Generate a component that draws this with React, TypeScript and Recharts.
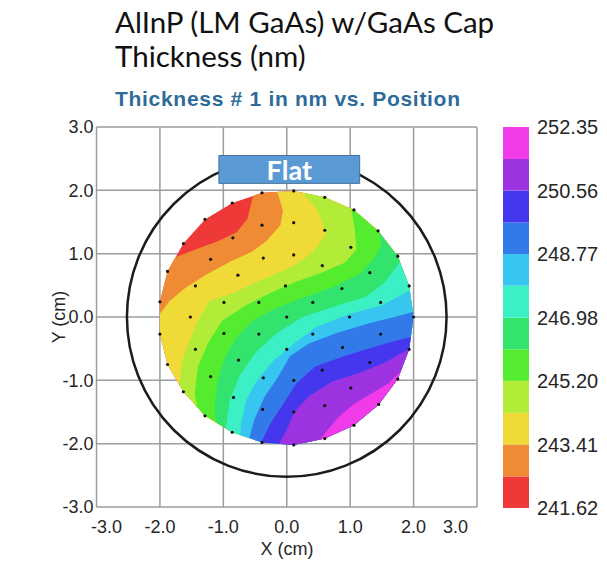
// Wafer thickness map: filled contour bands over the measured sites, with colour scale.

import { CartesianGrid, ReferenceArea, Scatter, ScatterChart, XAxis, YAxis } from "recharts";

type Pt = { x: number; y: number };

const AXIS_TICKS = [-3, -2, -1, 0, 1, 2, 3];

// band boundaries (nm), low to high
const LEVELS = [
  241.62, 242.51, 243.41, 244.3, 245.2, 246.09, 246.98, 247.88, 248.77, 249.66,
  250.56, 251.45, 252.35,
];
const COLORBAR_TICKS = [241.62, 243.41, 245.2, 246.98, 248.77, 250.56, 252.35];
const BAND_COLORS = [
  "#ef3838", "#ef8a35", "#f0da38", "#b3ec38", "#55ec30", "#32e46e",
  "#3af0c4", "#36c6ef", "#3279ea", "#4537ee", "#9d33e0", "#f23be8",
];

// measured sites (cm), outer ring listed counter-clockwise from +x
const RING_OUTER = [
  [2.0, 0], [1.93, 0.49], [1.75, 0.96], [1.44, 1.36], [1.06, 1.69], [0.6, 1.89],
  [0.11, 1.99], [-0.39, 1.96], [-0.86, 1.8], [-1.29, 1.54], [-1.63, 1.16],
  [-1.88, 0.72], [-2.0, 0.24], [-2.0, -0.27], [-1.88, -0.75], [-1.63, -1.18],
  [-1.29, -1.56], [-0.86, -1.82], [-0.39, -1.98], [0.11, -2.02], [0.6, -1.92],
  [1.06, -1.71], [1.45, -1.38], [1.75, -0.98], [1.93, -0.51],
];
const RING_3 = [
  [1.48, 0.23], [1.31, 0.7], [1.01, 1.1], [0.6, 1.37], [0.11, 1.49], [-0.39, 1.45],
  [-0.85, 1.25], [-1.2, 0.91], [-1.44, 0.49], [-1.52, 0], [-1.44, -0.51],
  [-1.2, -0.94], [-0.84, -1.27], [-0.38, -1.46], [0.11, -1.5], [0.6, -1.4],
  [1.01, -1.12], [1.31, -0.72], [1.48, -0.27],
];
const RING_2 = [
  [0.99, 0], [0.87, 0.45], [0.56, 0.81], [0.11, 0.98], [-0.37, 0.93], [-0.77, 0.66],
  [-0.99, 0.23], [-0.99, -0.26], [-0.76, -0.68], [-0.37, -0.96], [0.11, -1.0],
  [0.56, -0.84], [0.88, -0.48],
];
const RING_1 = [[0.41, 0.23], [-0.02, 0.49], [-0.44, 0.23], [-0.44, -0.27], [0, -0.51], [0.41, -0.27]];
const CENTER = [[0, 0]];

// contour lines between neighbouring bands, each from the lower-left edge to the upper-right edge
const EDGE_RED_ORANGE = [[-1.76, 0.95], [-1.45, 1.06], [-1.08, 1.2], [-0.79, 1.34], [-0.62, 1.55], [-0.56, 1.8], [-0.53, 1.92]];
const EDGE_ORANGE_YELLOW = [[-2.0, 0.05], [-1.85, 0.25], [-1.61, 0.45], [-1.29, 0.66], [-0.88, 0.88], [-0.55, 1.03], [-0.32, 1.2], [-0.1, 1.45], [-0.06, 1.68], [-0.15, 1.99]];
const EDGE_YELLOW_LIME = [[-1.77, -1.12], [-1.66, -0.73], [-1.53, -0.36], [-1.4, -0.05], [-1.22, 0.25], [-0.85, 0.38], [-0.37, 0.6], [0.1, 0.8], [0.4, 1.02], [0.62, 1.3], [0.5, 1.66], [0.26, 1.98]];
const EDGE_LIME_GREEN = [[-1.43, -1.43], [-1.45, -1.2], [-1.4, -0.78], [-1.24, -0.41], [-1.02, -0.06], [-0.65, 0.18], [-0.3, 0.36], [0.1, 0.54], [0.55, 0.7], [0.92, 0.86], [1.1, 1.07], [1.07, 1.4], [1.02, 1.72]];
const EDGE_GREEN_SEA = [[-1.11, -1.66], [-1.14, -1.46], [-1.1, -1.04], [-0.98, -0.65], [-0.8, -0.33], [-0.52, -0.05], [-0.15, 0.15], [0.3, 0.32], [0.75, 0.48], [1.15, 0.68], [1.4, 0.95], [1.49, 1.15], [1.46, 1.34]];
const EDGE_SEA_AQUA = [[-0.96, -1.76], [-0.9, -1.31], [-0.74, -0.92], [-0.48, -0.55], [-0.15, -0.25], [0.25, 0.0], [0.8, 0.18], [1.25, 0.32], [1.55, 0.55], [1.81, 0.88]];
const EDGE_AQUA_CYAN = [[-0.74, -1.87], [-0.72, -1.67], [-0.64, -1.31], [-0.46, -0.99], [-0.2, -0.68], [0.12, -0.42], [0.45, -0.16], [1.0, 0.05], [1.5, 0.18], [1.95, 0.42]];
const EDGE_CYAN_BLUE = [[-0.59, -1.91], [-0.51, -1.62], [-0.35, -1.26], [-0.14, -0.95], [0.05, -0.62], [0.35, -0.42], [0.8, -0.25], [1.3, -0.1], [1.7, 0.0], [2.0, 0.08]];
const EDGE_BLUE_INDIGO = [[-0.4, -1.97], [-0.25, -1.67], [-0.04, -1.35], [0.15, -1.05], [0.45, -0.78], [0.9, -0.62], [1.35, -0.48], [1.7, -0.38], [1.98, -0.32]];
const EDGE_INDIGO_PURPLE = [[-0.12, -2.02], [0.0, -1.78], [0.12, -1.5], [0.35, -1.25], [0.72, -1.02], [1.15, -0.88], [1.55, -0.72], [1.93, -0.5]];
const EDGE_PURPLE_MAGENTA = [[0.52, -1.96], [0.8, -1.6], [1.05, -1.38], [1.35, -1.2], [1.6, -1.05], [1.8, -0.86]];

const CONTOURS = [
  EDGE_RED_ORANGE, EDGE_ORANGE_YELLOW, EDGE_YELLOW_LIME, EDGE_LIME_GREEN,
  EDGE_GREEN_SEA, EDGE_SEA_AQUA, EDGE_AQUA_CYAN, EDGE_CYAN_BLUE,
  EDGE_BLUE_INDIGO, EDGE_INDIGO_PURPLE, EDGE_PURPLE_MAGENTA,
];

const WAFER_RADIUS = 2.52;
const FLAT_BOX = [[-1.07, 2.11], [1.15, 2.11], [1.15, 2.55], [-1.07, 2.55], [-1.07, 2.11]];
const FLAT_LABEL = [[0.04, 2.33]];

// layout of the map
const CHART_W = 500;
const CHART_H = 569;
const MARGIN = { top: 127, right: 23, bottom: 0, left: 0 };
const Y_AXIS_W = 96.5;
const PX_PER_CM = (CHART_W - MARGIN.right - MARGIN.left - Y_AXIS_W) / 6;

const FONT = "'Liberation Sans', Arial, sans-serif";

const toPts = (arr: number[][]): Pt[] => arr.map(([x, y]) => ({ x, y }));

const edge = toPts(RING_OUTER);
const sites = toPts([...RING_OUTER, ...RING_3, ...RING_2, ...RING_1, ...CENTER]);

function snapToEdge(p: Pt): Pt {
  let best = p;
  let bestD = Infinity;
  for (let i = 0; i < edge.length; i++) {
    const a = edge[i];
    const b = edge[(i + 1) % edge.length];
    const dx = b.x - a.x;
    const dy = b.y - a.y;
    let t = ((p.x - a.x) * dx + (p.y - a.y) * dy) / (dx * dx + dy * dy);
    t = Math.max(0, Math.min(1, t));
    const q = { x: a.x + t * dx, y: a.y + t * dy };
    const d = (q.x - p.x) ** 2 + (q.y - p.y) ** 2;
    if (d < bestD) {
      bestD = d;
      best = q;
    }
  }
  return best;
}

const angle = (p: Pt) => (Math.atan2(p.y, p.x) * 180) / Math.PI;
const mod360 = (a: number) => ((a % 360) + 360) % 360;

// region above a contour level: the contour plus the disc edge on its high (lower-right) side
function bandPolygon(line: number[][]): Pt[] {
  const pts = toPts(line);
  pts[0] = snapToEdge(pts[0]);
  pts[pts.length - 1] = snapToEdge(pts[pts.length - 1]);
  const aS = angle(pts[0]);
  const aE = angle(pts[pts.length - 1]);
  const total = mod360(aE - aS);
  const arc = edge
    .map((p) => ({ p, d: mod360(aE - angle(p)) }))
    .filter((o) => o.d > 0 && o.d < total)
    .sort((a, b) => a.d - b.d)
    .map((o) => o.p);
  return [...pts, ...arc, pts[0]];
}

const bandShapes: Pt[][] = [[...edge, edge[0]], ...CONTOURS.map(bandPolygon)];

const noMark = () => <g />;

// x tick labels; the two end labels are pulled in toward the plot
function XTick(props: { x: number; y: number; payload: { value: number } }) {
  const { x, y, payload } = props;
  const v = payload.value;
  const first = v === AXIS_TICKS[0];
  const last = v === AXIS_TICKS[AXIS_TICKS.length - 1];
  const anchor = first ? "start" : last ? "end" : "middle";
  const dx = first ? -5.5 : last ? -9 : 0;
  return (
    <text x={x + dx} y={y} dy="0.71em" textAnchor={anchor} fontFamily={FONT} fontSize={18} fill="#262626">
      {v.toFixed(1)}
    </text>
  );
}

export default function App() {
  return (
    <div style={{ position: "absolute", left: 0, top: 0, width: 607, height: 569, background: "#fff", overflow: "hidden" }}>
      <div style={{ position: "absolute", left: 115, top: 5, fontFamily: "Lato, sans-serif", fontSize: 29.5, lineHeight: "34px", color: "#111", whiteSpace: "nowrap" }}>
        AlInP (LM GaAs) w/GaAs Cap
        <br />
        Thickness (nm)
      </div>
      <div style={{ position: "absolute", left: 115, top: 88, fontFamily: FONT, fontWeight: 700, fontSize: 21, lineHeight: "21px", letterSpacing: 0.7, color: "#2d6b99", whiteSpace: "nowrap" }}>
        Thickness # 1 in nm vs. Position
      </div>
      <div style={{ position: "absolute", left: 59, top: 317, transform: "translate(-50%, -50%) rotate(-90deg)", fontFamily: FONT, fontSize: 18, color: "#262626", whiteSpace: "nowrap" }}>
        Y (cm)
      </div>
      <div style={{ position: "absolute", left: 287, top: 549, transform: "translate(-50%, -50%)", fontFamily: FONT, fontSize: 18, color: "#262626", whiteSpace: "nowrap" }}>
        X (cm)
      </div>

      <div style={{ position: "absolute", left: 0, top: 0 }}>
        <ScatterChart width={CHART_W} height={CHART_H} margin={MARGIN}>
          <CartesianGrid stroke="#9c9c9c" strokeWidth={1.5} />
          <XAxis
            type="number"
            dataKey="x"
            domain={[-3, 3]}
            ticks={AXIS_TICKS}
            interval={0}
            allowDataOverflow
            height={62}
            tickLine={false}
            axisLine={false}
            tickMargin={7}
            tick={XTick}
          />
          <YAxis
            type="number"
            dataKey="y"
            domain={[-3, 3]}
            ticks={AXIS_TICKS}
            interval={0}
            allowDataOverflow
            width={Y_AXIS_W}
            tickLine={false}
            axisLine={false}
            tickSize={3}
            tickMargin={0}
            tickFormatter={(v: number) => v.toFixed(1)}
            tick={{ fontFamily: FONT, fontSize: 18, fill: "#262626" }}
          />
          {bandShapes.map((poly, i) => (
            <Scatter
              key={i}
              data={poly}
              fill={BAND_COLORS[i]}
              line={{ fill: BAND_COLORS[i], stroke: "none" }}
              shape={noMark}
              isAnimationActive={false}
            />
          ))}
          <Scatter
            data={[{ x: 0, y: 0 }]}
            isAnimationActive={false}
            shape={(p: { cx: number; cy: number }) => (
              <circle cx={p.cx} cy={p.cy} r={WAFER_RADIUS * PX_PER_CM} fill="none" stroke="#1c1c1c" strokeWidth={2.5} />
            )}
          />
          <Scatter
            data={sites}
            isAnimationActive={false}
            shape={(p: { cx: number; cy: number }) => <circle cx={p.cx} cy={p.cy} r={1.6} fill="#111" />}
          />
          <Scatter
            data={toPts(FLAT_BOX)}
            fill="#5b9bd5"
            line={{ fill: "#5b9bd5", stroke: "#41719c", strokeWidth: 1 }}
            shape={noMark}
            isAnimationActive={false}
          />
          <Scatter
            data={toPts(FLAT_LABEL)}
            isAnimationActive={false}
            shape={(p: { cx: number; cy: number }) => (
              <text x={p.cx} y={p.cy} textAnchor="middle" dominantBaseline="central" fill="#fff" fontFamily="Lato, sans-serif" fontWeight={700} fontSize={27}>
                Flat
              </text>
            )}
          />
        </ScatterChart>
      </div>

      <div style={{ position: "absolute", left: 503, top: 0 }}>
        <ScatterChart width={104} height={569} margin={{ top: 127, right: 0, bottom: 61, left: 0 }}>
          <XAxis type="number" dataKey="x" domain={[0, 1]} hide />
          <YAxis
            type="number"
            dataKey="y"
            orientation="right"
            width={78}
            domain={[LEVELS[0], LEVELS[LEVELS.length - 1]]}
            allowDataOverflow
            ticks={COLORBAR_TICKS}
            interval={0}
            tickLine={false}
            axisLine={false}
            tickFormatter={(v: number) => v.toFixed(2)}
            tick={{ fontFamily: FONT, fontSize: 20, fill: "#262626" }}
          />
          {BAND_COLORS.map((c, i) => (
            <ReferenceArea key={i} x1={0} x2={1} y1={LEVELS[i]} y2={LEVELS[i + 1]} fill={c} fillOpacity={1} stroke="none" />
          ))}
          <Scatter
            data={COLORBAR_TICKS.map((v) => ({ x: 0.5, y: v }))}
            shape={noMark}
            isAnimationActive={false}
          />
        </ScatterChart>
      </div>
    </div>
  );
}
